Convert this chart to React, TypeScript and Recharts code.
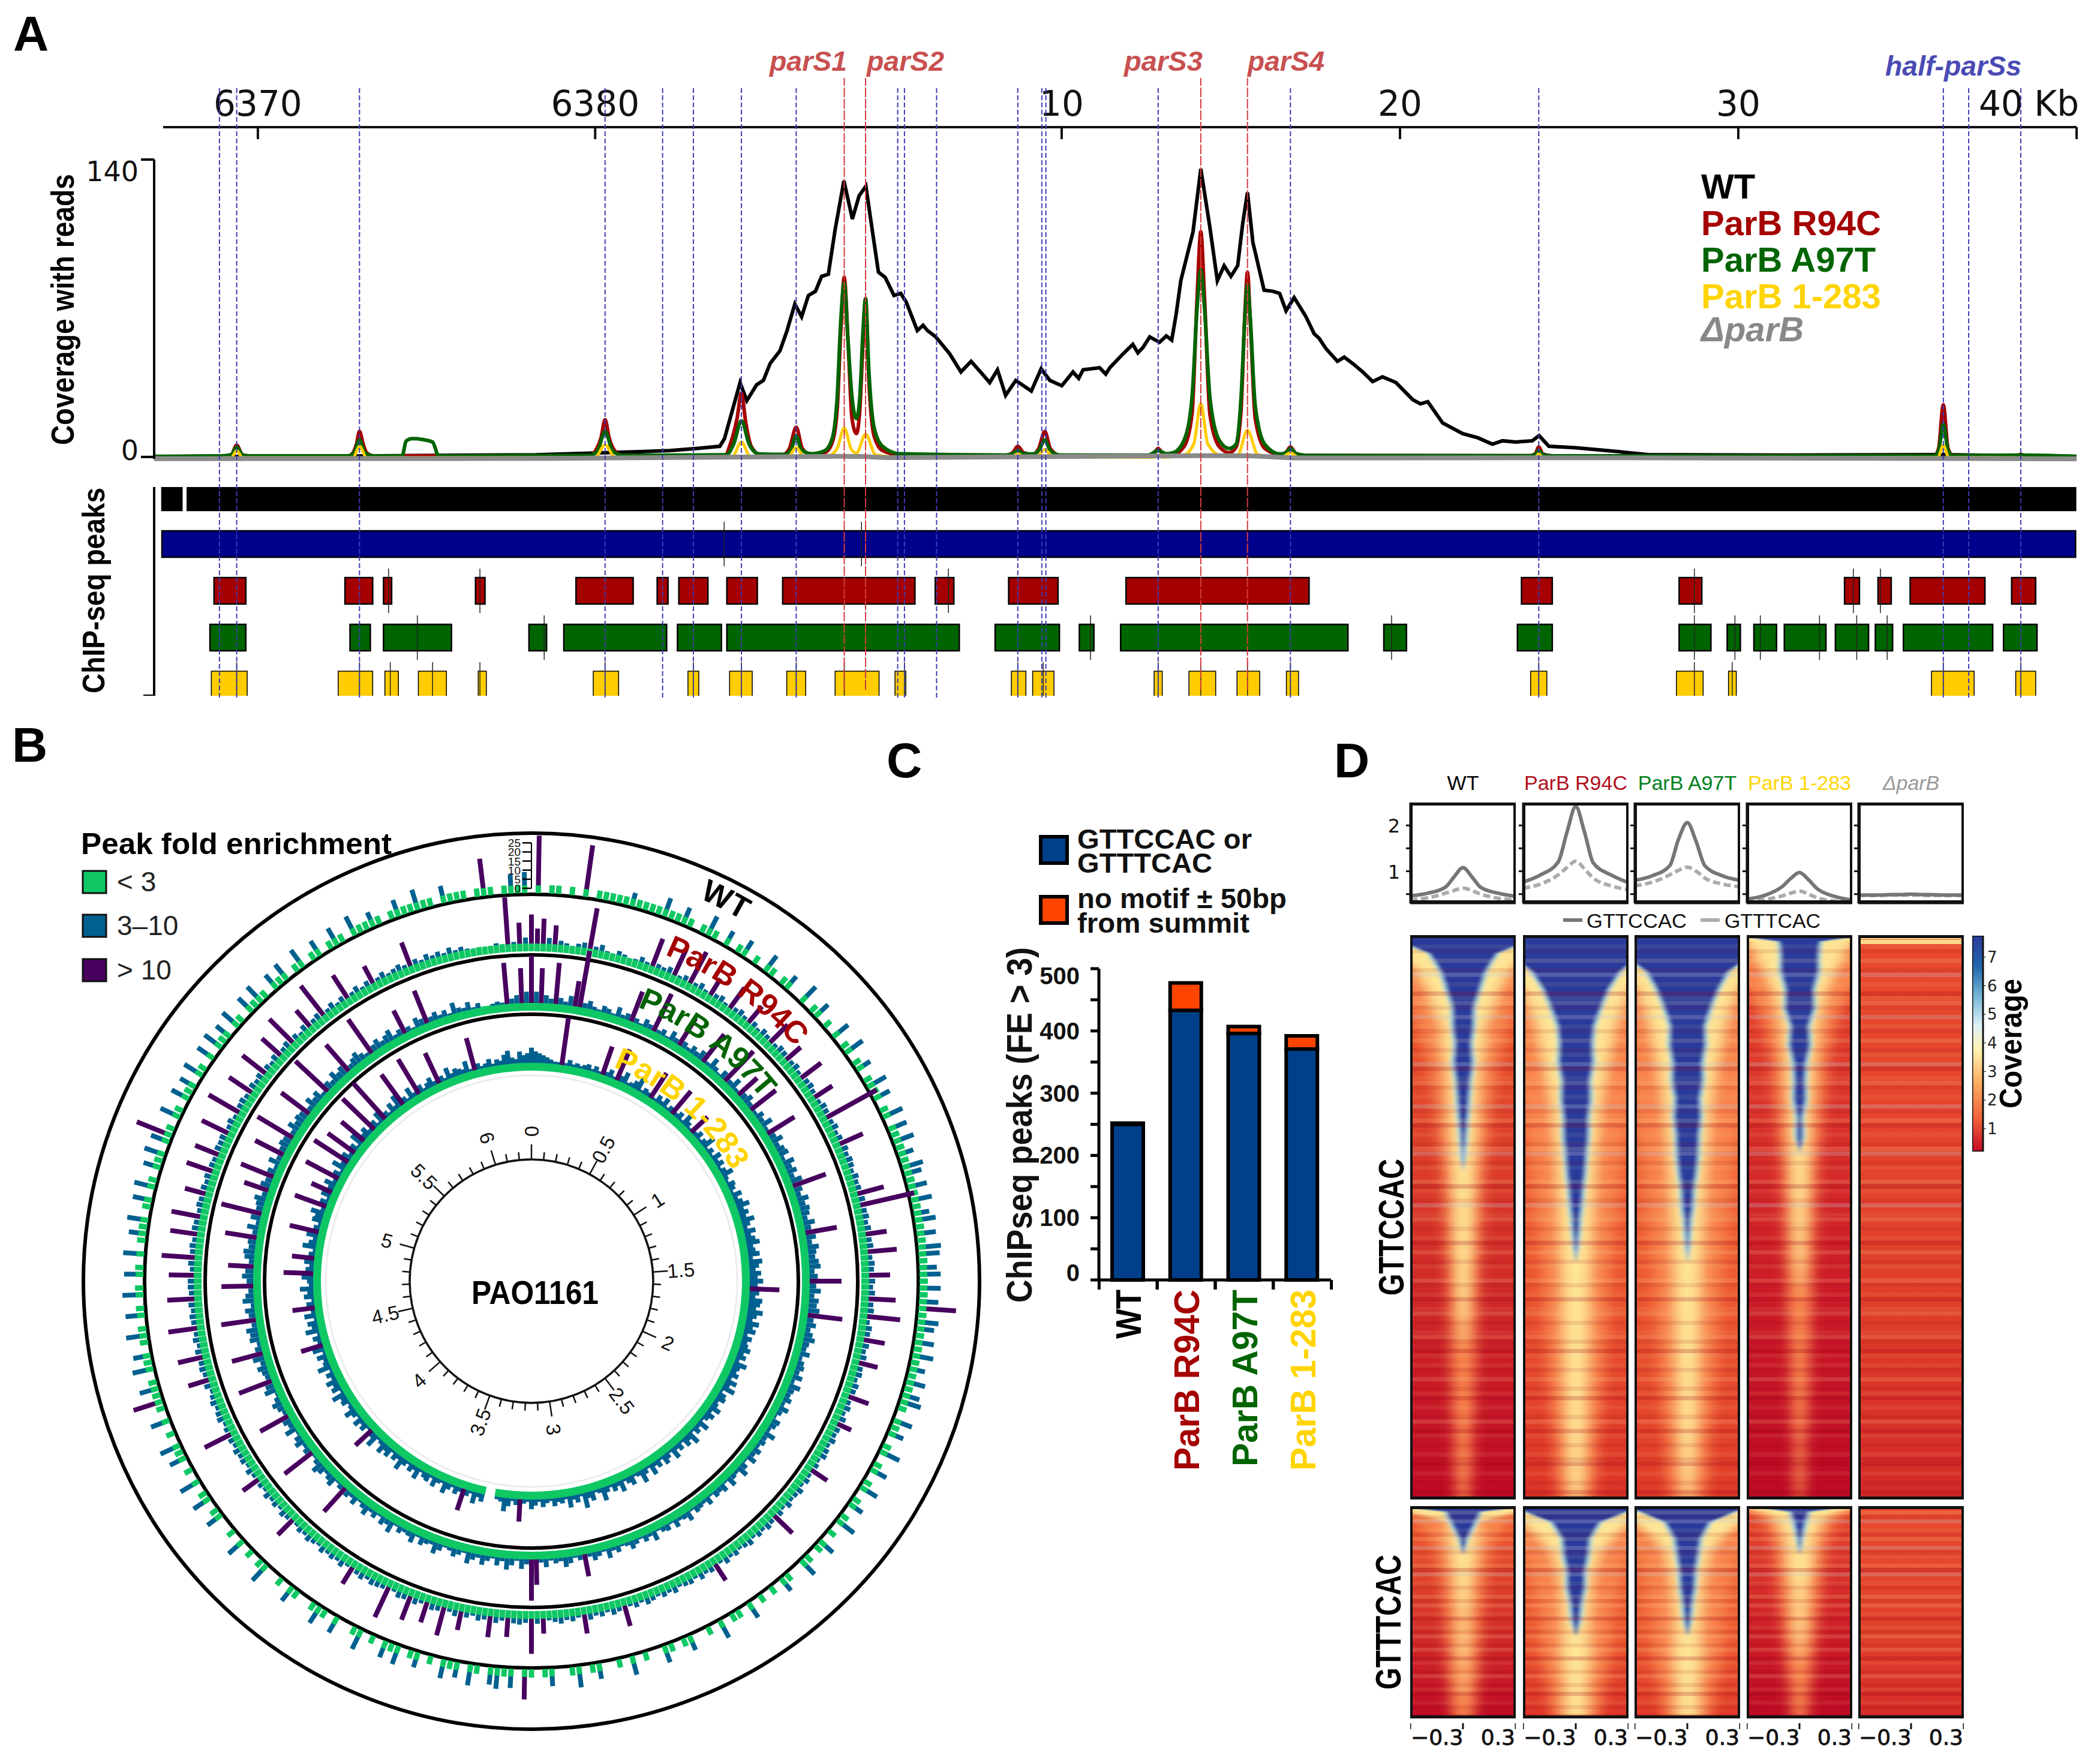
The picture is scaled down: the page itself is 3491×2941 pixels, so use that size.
import React from "react";
import {
  LineChart, Line, XAxis, YAxis, BarChart, Bar, Cell, ScatterChart, Scatter, ReferenceLine,
  RadarChart, Radar, PolarGrid, PolarAngleAxis, PolarRadiusAxis, AreaChart, Area,
} from "recharts";

const SANS = "'Liberation Sans', Arial, sans-serif";
const DEJA = "'DejaVu Sans', sans-serif";

// Panel A: coverage, [kb, reads]
const wtCoverage = [[-16.83,0],[-11.5,.4],[-5.55,1],[-3.47,2],[-2.6,2.4],[-1.59,3],[-.8,4],[-.11,5],[.03,8.6],[.49,35],[.69,26.5],[.98,34],[1.18,36],[1.38,44],[1.67,50],[1.87,59],[2.11,72],[2.31,66],[2.51,76],[2.72,78],[2.9,85],[3.1,86],[3.3,107],[3.56,130],[3.81,112],[4.01,123],[4.21,127.5],[4.35,112],[4.58,87],[4.78,84.5],[5.04,76],[5.24,77],[5.4,73],[5.73,59.5],[5.9,62],[6.03,59.5],[6.27,56.6],[6.68,48.7],[7.02,40],[7.32,45],[7.6,40],[7.87,35],[8.1,41],[8.34,29],[8.64,36],[9.1,31],[9.39,41.5],[9.65,36],[10,33.5],[10.33,40],[10.5,37],[10.63,41],[11.12,42],[11.3,39],[11.42,42],[11.81,48.5],[12.1,53],[12.25,49],[12.4,51.5],[12.6,56.5],[12.89,54],[13.09,57],[13.25,55],[13.38,67],[13.52,83],[13.88,106],[14.11,135.6],[14.37,109],[14.6,83],[14.8,90],[15,85],[15.2,90],[15.35,110],[15.49,124.5],[15.65,101],[15.98,78.5],[16.24,78],[16.44,77],[16.63,68.8],[16.87,75],[17.22,66],[17.46,58],[17.6,56],[17.81,51],[18.15,45],[18.35,47],[18.6,44],[18.9,40],[19.19,35.5],[19.48,37.7],[19.88,35],[20.37,27],[20.6,25],[20.82,26],[21.26,16],[21.85,11],[22.3,9],[22.73,6],[23.03,7.6],[23.42,7],[23.91,7.6],[24.11,10],[24.4,5],[25.19,4.3],[26.37,2.6],[27.36,1],[31.3,.9],[36,1.1],[39.46,.2]];
const r94cCoverage = [[-16.83,.2],[-14.75,.3],[-14.55,1],[-14.39,5.5],[-14.22,1],[-14,.4],[-11.1,.4],[-10.95,2],[-10.85,6],[-10.76,12],[-10.65,6],[-10.55,2],[-10.35,.5],[-3.95,.6],[-3.78,3],[-3.62,9],[-3.5,17.5],[-3.38,9],[-3.22,3],[-3,.7],[.05,.8],[.2,6],[.4,18],[.53,30],[.66,16],[.82,5],[1.1,1],[1.75,1],[1.95,4],[2.15,14],[2.33,4],[2.6,1],[3,2],[3.22,7],[3.36,22],[3.47,60],[3.57,84.5],[3.68,55],[3.8,18],[3.93,11],[4.03,22],[4.12,52],[4.2,74.5],[4.3,35],[4.45,10],[4.7,3],[5.2,1],[8.35,.8],[8.55,2],[8.7,5],[8.87,2],[9.15,1.2],[9.32,4],[9.5,12],[9.66,4],[9.95,.8],[12.55,.8],[12.72,1.6],[12.85,4],[13,1.5],[13.3,1.2],[13.62,5],[13.85,20],[14,75],[14.11,106],[14.22,75],[14.38,20],[14.65,5],[14.95,2],[15.15,4.5],[15.3,22],[15.42,70],[15.49,87],[15.57,65],[15.72,18],[16,4],[16.45,1.2],[16.62,2],[16.76,4.7],[16.92,1.6],[17.2,.7],[23.85,.6],[24,1.5],[24.1,4.7],[24.22,1.4],[24.5,.5],[35.8,.6],[35.92,4],[36.06,24.5],[36.2,4],[36.35,.6],[38.2,.4],[38.35,1.2],[38.5,.4],[40,.2]];
const a97tCoverage = [[-16.83,.3],[-15,.5],[-14.75,.6],[-14.55,1],[-14.39,4.6],[-14.22,1],[-14,.5],[-11.1,.5],[-10.92,2],[-10.76,8],[-10.6,2],[-10.35,.5],[-9.5,.5],[-9.38,7.5],[-9.2,8.6],[-8.9,8.2],[-8.6,7],[-8.42,.5],[-3.95,.7],[-3.72,3],[-3.5,12],[-3.28,3],[-3,.8],[.08,1],[.3,6],[.53,17],[.76,6],[1.05,1.4],[1.8,1.2],[2,3.5],[2.15,10],[2.3,3.5],[2.6,1.5],[3,3],[3.22,9],[3.36,28],[3.47,65],[3.57,82],[3.68,55],[3.8,28],[3.93,18],[4.03,28],[4.12,58],[4.2,74.5],[4.3,40],[4.45,14],[4.7,5],[5.2,1.5],[8.35,.9],[8.55,1.6],[8.7,3],[8.87,1.6],[9.15,1.4],[9.32,3],[9.5,8],[9.66,3],[9.95,.9],[12.55,.9],[12.85,3],[13.1,1.5],[13.3,2],[13.62,8],[13.85,28],[14,70],[14.11,88],[14.22,70],[14.38,28],[14.65,8],[14.95,4],[15.15,6],[15.3,28],[15.42,68],[15.49,81],[15.57,66],[15.72,24],[16,6],[16.45,1.4],[16.62,2],[16.76,4],[16.92,1.6],[17.2,.7],[23.85,.6],[24,1.2],[24.1,3],[24.22,1.2],[24.5,.5],[35.8,.6],[35.92,3],[36.06,15.5],[36.2,3],[36.35,.6],[38.35,.9],[40,.3]];
const truncCoverage = [[-16.83,-.6],[-14.55,-.4],[-14.39,3],[-14.22,-.3],[-10.95,-.3],[-10.76,5],[-10.55,-.3],[-3.8,-.3],[-3.5,5.7],[-3.2,-.3],[.25,-.2],[.53,7],[.8,-.1],[1.9,-.1],[2.15,4.3],[2.4,-.1],[3.1,.5],[3.36,4],[3.57,13.6],[3.78,3.5],[3.93,1.8],[4.2,10.7],[4.5,1],[5,0],[8.5,-.2],[8.7,1.5],[8.9,-.2],[9.25,0],[9.5,3.5],[9.75,-.1],[12.7,-.2],[12.85,1],[13,-.2],[13.6,.8],[13.9,6],[14.11,25],[14.32,6],[14.7,.8],[15.2,1],[15.49,12.5],[15.8,1],[16.5,-.2],[16.76,2],[17,-.3],[24,-.3],[24.1,1.5],[24.22,-.3],[35.9,-.2],[36.06,5.5],[36.22,-.2],[40,-.6]];
const deltaCoverage = [[-16.83,-.8],[-5,-.7],[3.5,.3],[4,.2],[5,-.3],[14.1,.6],[15.5,.5],[17,-.5],[24.1,-.4],[40,-.9]];

const halfParS = [-14.9,-14.39,-10.76,-3.5,-1.8,-.89,.53,2.15,5.15,5.35,6.3,8.7,9.41,9.53,12.85,16.76,24.1,36.06,36.81,38.35];
const fullParS = [3.57,4.2,14.11,15.49];
const genomeTicks = [-13.76,-3.79,10,20,30,40];
const genomeLabels = ["6370","6380","10","20","30","40 Kb"];

// ChIP-seq peak intervals, kb
const wtPeaks = [[-16.6,-16.01],[-15.85,39.97]];
const r94cMotifPeaks = [[-16.6,39.97]];
const r94cPeaks = [[-15.06,-14.12],[-11.19,-10.37],[-10.05,-9.81],[-7.33,-7.05],[-4.36,-2.67],[-1.96,-1.64],[-1.32,-.46],[.1,1],[1.75,5.66],[6.26,6.81],[8.43,9.89],[11.9,17.31],[23.59,24.5],[28.25,28.92],[33.14,33.58],[34.13,34.52],[35.08,37.29],[38.08,38.79]];
const a97tPeaks = [[-15.18,-14.12],[-11.04,-10.44],[-10.05,-8.04],[-5.75,-5.23],[-4.72,-1.68],[-1.36,-.06],[.1,6.97],[8.03,9.93],[10.52,10.95],[11.74,18.46],[19.52,20.19],[23.47,24.5],[28.25,29.19],[29.67,30.06],[30.46,31.13],[31.36,32.59],[32.87,33.85],[34.05,34.56],[34.88,37.52],[37.84,38.83]];
const truncPeaks = [[-15.14,-14.08],[-11.39,-10.37],[-10.01,-9.61],[-9.02,-8.19],[-7.25,-7.01],[-3.85,-3.1],[-1.05,-.73],[.18,.85],[1.87,2.43],[3.3,4.6],[5.07,5.39],[8.51,8.94],[9.14,9.77],[12.73,12.97],[13.76,14.55],[15.18,15.85],[16.64,17],[23.86,24.34],[28.17,28.96],[29.71,29.94],[35.71,36.97],[38.2,38.79]];
const summitsBlue = [.02,4.08];
const summitsRed = [-9.9,-7.2,6.65,28.7,33.4,34.2];
const summitsGreen = [-9.05,-5.3,10.85,19.75,28.7,29.9,30.65,32.4,33.5,34.4];
const summitsYellow = [-14.39,-10.76,-9.85,-8.6,-7.2,-3.5,-.89,.53,2.15,3.57,5.35,8.7,9.45,12.85,14.11,15.49,16.76,24.1,28.7,29.82,36.06,38.35];

// Panel B: fold enrichment per 1 degree bin, clockwise from the top
const wtFold = [
  0,29,0,2,2,0,2,0,26,0,2,2,2,2,2,5,2,2,
  2,2,8,2,2,7,2,0,2,9,2,0,6,0,2,7,0,2,
  0,8,2,0,2,6,0,0,9,0,2,7,0,2,0,8,0,2,
  9,0,2,6,0,2,9,2,7,0,2,9,0,8,2,9,2,6,
  2,9,7,2,8,2,9,2,6,9,2,8,2,10,9,2,7,9,
  2,9,2,8,18,2,9,7,2,8,2,9,2,6,2,8,2,7,
  9,2,0,8,2,6,0,2,9,0,2,7,0,2,8,0,2,6,
  0,2,9,0,2,0,7,2,0,2,8,0,0,2,6,0,2,0,
  2,0,7,0,2,2,0,8,0,2,0,0,6,2,0,2,7,0,
  0,2,0,8,0,2,0,0,6,2,0,9,2,0,0,7,2,0,
  2,14,0,8,2,9,7,0,2,9,0,6,2,8,0,2,0,6,
  2,0,8,2,7,0,2,0,9,2,0,0,7,0,2,8,2,0,
  0,2,7,0,2,0,0,9,2,0,2,0,8,0,2,0,0,7,
  2,0,8,2,0,9,0,2,0,7,2,9,0,2,0,8,0,2,
  14,2,8,2,0,9,2,7,0,2,9,2,0,8,2,0,9,2,
  0,8,2,0,9,0,2,7,2,9,0,2,8,0,9,2,0,7,
  2,9,0,8,18,2,0,9,2,0,8,2,7,0,9,2,0,8,
  0,9,2,7,0,9,2,0,8,2,9,2,0,7,2,8,0,2,
  9,0,2,7,0,2,8,2,0,9,2,2,6,2,0,2,7,2,
  2,9,2,2,0,7,2,2,2,0,2,18,2,0,2,8,2,9,
];
const r94cFold = [
  32,18,28,9,22,7,5,3,6,8,44,6,9,4,3,7,5,3,
  4,8,5,32,7,6,9,32,5,8,38,6,9,5,22,7,9,5,
  28,7,9,6,24,8,5,9,7,28,6,9,8,22,7,9,6,28,
  8,9,7,24,6,9,8,60,7,9,6,8,28,9,7,9,8,6,
  9,7,8,30,9,58,8,9,7,9,24,8,9,32,7,9,8,24,
  9,7,9,30,8,9,36,6,9,8,24,9,7,9,22,8,9,6,
  9,8,24,7,9,6,9,18,8,7,9,6,8,9,5,7,22,6,
  8,5,9,7,6,9,5,8,28,7,9,6,8,5,9,7,5,8,
  6,9,5,22,8,6,9,5,8,7,5,9,6,8,5,7,9,5,
  8,5,24,7,9,5,8,6,9,22,5,8,6,9,7,5,18,8,
  38,7,9,8,22,6,9,24,7,9,5,8,22,9,6,32,8,9,
  24,6,9,28,8,9,5,36,7,8,9,6,9,7,22,5,9,6,
  8,6,9,5,7,9,6,8,5,24,7,9,5,8,6,9,5,7,
  22,6,9,5,8,7,9,6,8,32,7,5,9,8,6,9,7,5,
  9,24,7,9,8,28,9,6,9,7,32,8,9,7,9,30,8,9,
  9,28,7,9,36,8,9,7,30,9,8,32,7,9,8,24,9,7,
  9,30,8,7,28,9,8,9,32,7,9,6,38,8,9,7,30,9,
  7,9,32,8,6,9,28,7,9,36,8,5,9,24,7,9,40,6,
  9,5,8,30,6,9,5,8,22,6,9,5,7,9,6,28,8,5,
  9,6,8,5,9,5,7,4,3,2,3,3,5,2,50,5,24,9,
];
const a97tFold = [
  32,9,24,7,5,28,6,4,8,18,38,5,7,4,3,6,5,3,
  8,4,6,22,5,3,7,5,28,4,6,3,8,5,22,6,4,7,
  5,8,24,4,9,5,3,7,28,5,9,4,18,6,8,5,22,4,
  7,5,9,4,22,6,9,5,7,8,4,9,6,8,5,9,24,7,
  5,9,6,8,7,5,9,6,22,8,5,9,7,6,8,9,5,7,
  22,6,9,5,8,7,9,24,6,8,5,7,9,6,5,8,4,6,
  7,5,8,4,9,6,5,7,4,8,5,3,7,6,4,9,5,6,
  4,7,5,8,3,6,9,4,5,8,3,7,5,6,3,7,4,5,
  6,3,8,5,4,7,3,6,5,3,8,4,6,3,5,7,4,3,
  6,4,8,3,5,7,4,16,5,3,6,8,4,5,3,7,4,18,
  28,5,8,3,6,9,4,7,3,5,8,4,6,9,3,5,7,4,
  3,6,9,4,5,7,3,8,5,4,6,3,9,5,7,3,6,4,
  8,5,3,7,4,6,22,5,3,8,6,4,7,9,5,3,24,6,
  4,8,6,3,9,5,7,22,4,6,8,5,3,9,7,24,5,6,
  8,5,9,22,6,4,8,7,9,5,24,6,8,4,9,7,5,22,
  6,9,7,18,5,8,9,6,7,22,5,9,4,8,28,6,7,9,
  5,18,8,6,24,7,4,9,5,22,6,8,7,28,5,9,6,8,
  7,24,5,9,6,8,4,30,7,5,9,6,8,24,5,7,9,6,
  4,28,6,8,5,7,9,4,6,18,5,3,8,6,24,5,7,4,
  6,3,9,5,4,7,3,5,2,2,3,4,3,28,5,7,24,9,
];
const truncFold = [
  10,8,7,6,5,4,3,3,28,3,5,3,4,3,4,5,3,5,
  3,18,4,6,3,20,5,8,3,4,6,9,3,5,4,18,3,6,
  4,7,3,5,18,4,6,3,8,5,3,14,4,6,3,5,9,3,
  5,3,7,4,6,3,5,8,4,3,6,5,3,7,4,6,9,5,
  7,5,9,6,4,8,5,7,9,5,6,8,4,9,7,5,8,6,
  9,6,18,7,5,9,8,6,10,7,5,9,6,8,4,7,5,6,
  8,5,7,4,9,6,5,7,4,8,5,9,3,6,7,4,5,8,
  4,7,5,3,8,4,6,3,9,5,7,3,6,4,8,3,5,7,
  3,6,4,8,3,5,9,4,3,7,5,3,8,4,6,3,5,9,
  4,3,7,5,10,3,6,4,8,3,5,4,6,3,4,6,3,5,
  7,3,4,14,5,3,6,9,4,3,0,0,0,6,4,8,3,5,
  14,4,6,3,5,8,3,4,7,3,6,5,3,8,4,6,3,5,
  9,4,6,3,7,5,8,4,3,9,5,14,3,6,4,7,3,5,
  8,4,3,6,5,9,3,7,5,8,4,6,3,9,5,4,7,3,
  8,14,4,6,3,9,5,7,3,8,4,14,6,3,7,5,9,4,
  5,8,18,6,4,7,14,5,3,9,6,4,8,18,5,3,7,6,
  9,4,20,6,3,7,14,5,8,4,22,6,3,9,5,24,7,4,
  20,6,3,9,18,5,7,4,26,6,3,8,28,5,3,7,4,9,
  22,5,3,8,4,24,6,3,5,7,4,20,5,3,8,4,6,5,
  4,8,3,20,5,3,4,6,3,5,4,7,9,5,4,8,6,7,
];
const genomeMb = [0,.1,.2,.3,.4,.5,.6,.7,.8,.9,1,1.1,1.2,1.3,1.4,1.5,1.6,1.7,1.8,1.9,2,2.1,2.2,2.3,2.4,2.5,2.6,2.7,2.8,2.9,3,3.1,3.2,3.3,3.4,3.5,3.6,3.7,3.8,3.9,4,4.1,4.2,4.3,4.4,4.5,4.6,4.7,4.8,4.9,5,5.1,5.2,5.3,5.4,5.5,5.6,5.7,5.8,5.9,6,6.1,6.2];
const foldTicks = [0,5,10,15,20,25];

// Panel C
const strains = ["WT","ParB R94C","ParB A97T","ParB 1-283"];
const strainColors = ["#000000","#a50000","#006400","#ffd400"];
const motifPeaks = [250,433,396,371];
const noMotifPeaks = [2,44,11,21];
const peakAxisTicks = [0,50,100,150,200,250,300,350,400,450,500];

// Panel D profiles
const profileX = [-.3,-.2,-.1,-.05,0,.05,.1,.2,.3];
const profileSolid = [
  [.46,.52,.65,.88,1.08,.88,.65,.52,.45],
  [.76,.92,1.2,1.85,2.41,1.85,1.18,.92,.75],
  [.8,.9,1.12,1.7,2.06,1.65,1.12,.9,.8],
  [.39,.47,.66,.84,.97,.82,.62,.45,.37],
  [.48,.48,.49,.49,.5,.49,.49,.48,.48],
];
const profileDashed = [
  [.38,.42,.52,.58,.63,.58,.5,.41,.37],
  [.63,.72,.92,1.08,1.22,1.05,.85,.68,.6],
  [.68,.76,.92,1.02,1.09,1,.85,.72,.66],
  [.34,.38,.46,.52,.57,.5,.42,.35,.32],
  [.47,.47,.48,.48,.48,.48,.47,.47,.47],
];
const columnTitles = ["WT","ParB R94C","ParB A97T","ParB 1-283","ΔparB"];
const columnColors = ["#000","#b01020","#008020","#ffd400","#9a9a9a"];
const columnLeft = [2351,2539,2725,2912,3098];
const coverageTicks = [1,2,3,4,5,6,7];

// Panel D heatmaps, half widths of the colour bands per row (0.4 = past the panel edge)
const topRows = [0,.35,1,2,3,4,5,6,7,8,9,10,11,12,13,14,15,16,17,18,19,20,21,22,23,24,25,26,27,28,29,30,31];
const bottomRows = [0,.35,1,2,3,4,5,6,7,8,9,10,11,12,13];
const none33 = [0,0,0,0,0,0,0,0,0,0,0,0,0,0,0,0,0,0,0,0,0,0,0,0,0,0,0,0,0,0,0,0,0];
const none15 = [0,0,0,0,0,0,0,0,0,0,0,0,0,0,0];
const topCore = [
  [.4,.38,.2,.13,.095,.06,.06,.045,.055,.04,.032,.024,.014,.005,0,0,0,0,0,0,0,0,0,0,0,0,0,0,0,0,0,0,0],
  [.4,.4,.4,.26,.19,.145,.105,.095,.1,.08,.085,.07,.072,.06,.052,.04,.03,.018,.008,0,0,0,0,0,0,0,0,0,0,0,0,0,0],
  [.4,.4,.4,.24,.18,.135,.1,.105,.085,.09,.07,.078,.065,.062,.05,.035,.028,.012,.005,0,0,0,0,0,0,0,0,0,0,0,0,0,0],
  [.4,.12,.11,.11,.08,.085,.05,.06,.035,.03,.035,.012,.018,0,0,0,0,0,0,0,0,0,0,0,0,0,0,0,0,0,0,0,0],
  none33,
];
const topPale = [
  [.4,.4,.35,.26,.2,.17,.12,.12,.1,.085,.08,.075,.07,.065,.06,.055,.05,.05,.045,.04,.035,.03,.02,.01,0,0,0,0,0,0,0,0,0],
  [.4,.4,.4,.4,.3,.26,.22,.2,.18,.16,.14,.13,.12,.11,.105,.1,.095,.09,.085,.08,.075,.07,.07,.065,.06,.06,.055,.05,.05,.045,.04,.035,.02],
  [.4,.4,.4,.35,.28,.24,.21,.19,.17,.15,.135,.125,.115,.11,.1,.095,.09,.085,.08,.075,.07,.07,.065,.06,.06,.055,.05,.05,.045,.04,.035,.025,.015],
  [.4,.3,.25,.2,.15,.125,.1,.09,.08,.07,.06,.055,.05,.05,.045,.04,.035,.03,.025,.02,.01,0,0,0,0,0,0,0,0,0,0,0,0],
  none33,
];
const topWarm = [
  [.4,.4,.4,.4,.38,.3,.26,.23,.2,.18,.16,.15,.14,.13,.12,.11,.11,.1,.1,.09,.09,.08,.08,.07,.07,.065,.06,.06,.05,.05,.05,.04,.04],
  [.4,.4,.4,.4,.4,.4,.4,.38,.36,.34,.32,.3,.28,.26,.25,.24,.23,.22,.21,.2,.19,.18,.18,.17,.16,.16,.15,.14,.13,.12,.12,.11,.1],
  [.4,.4,.4,.4,.4,.4,.4,.38,.36,.34,.32,.3,.28,.26,.25,.24,.23,.22,.21,.2,.19,.18,.18,.17,.16,.16,.15,.14,.13,.12,.12,.11,.1],
  [.4,.4,.4,.4,.3,.24,.2,.18,.16,.15,.14,.13,.12,.11,.1,.1,.09,.09,.08,.08,.07,.07,.06,.06,.05,.05,.05,.04,.04,.03,.03,.03,.02],
  none33,
];
const bottomCore = [
  [.4,.1,.07,.02,0,0,0,0,0,0,0,0,0,0,0],
  [.4,.3,.14,.08,.07,.05,.05,.03,.02,0,0,0,0,0,0],
  [.4,.28,.13,.075,.06,.045,.04,.025,.015,0,0,0,0,0,0],
  [.3,.05,.03,.01,0,0,0,0,0,0,0,0,0,0,0],
  none15,
];
const bottomPale = [
  [.4,.3,.08,.08,.07,.05,.04,.03,.02,.02,.02,.01,.01,0,0],
  [.4,.4,.3,.2,.13,.1,.08,.08,.07,.07,.08,.07,.06,.06,.05],
  [.4,.4,.3,.18,.12,.1,.08,.08,.07,.07,.08,.07,.06,.06,.05],
  [.4,.2,.12,.08,.07,.06,.04,.03,.03,.02,.01,0,0,0,0],
  none15,
];
const bottomWarm = [
  [.4,.4,.25,.18,.15,.13,.12,.11,.1,.1,.09,.09,.08,.07,.06],
  [.4,.4,.4,.4,.28,.26,.24,.22,.2,.2,.2,.18,.16,.15,.13],
  [.4,.4,.4,.4,.27,.25,.23,.22,.2,.2,.2,.18,.16,.15,.13],
  [.4,.3,.2,.16,.14,.13,.12,.11,.1,.09,.08,.07,.06,.05,.04],
  none15,
];
const heatTop = ["#f2622f","#f4733a","#f4733a","#e84b2e","#e94a2e"];
const heatBottom = ["#bf0a26","#dc3327","#e03a28","#be0a26","#d42a28"];
const heatMidBottom = ["#d02a28","#ea5530","#ec5a32","#cc1c28","#e0402a"];
// row tint: positive = paler line, negative = darker line
const streakTop = [0,0,1,-1,0,2,0,-1,3,0,1,0,-2,1,2,-1,0,3,0,1,-1,0,2,0,-1,1,0,3,-2,0,1,2,-1,0,1,0,3,-1,0,2,-2,0,1,0,-1,2,3,0,-1,1,0,0,2,-2,1,0,-1,3,0,1,2,0,-1,0,1,-2,0,2,0,-1,1,0,0,2,-1,0,1,-2,0,1,2,0,-1,0,1,2,-1,0,-2,1,0,1,-1,0,2,0,-1,1,-2,0,1,0,-1,2,0,-2,1,0,-1,0,1,-1,-2,0,1,0,-1,0,-2,-1];
const streakBottom = [0,2,-1,3,0,1,-1,2,0,3,-1,1,0,2,-2,3,0,1,-1,0,2,-1,2,0,1,-2,0,1,-1,2,0,-1,2,0,-2,1,0,-1,2,0,-1,1,-2,0,1,-1,0,-2];

const pts = (a: number[][]) => a.map(([x, y]) => ({ x, y }));
const spans = (a: number[][], row: number, fill: string) => a.map((s) => ({ span: s, row, fill }));

const trackBars = [
  ...spans(wtPeaks, 0, "#000000"),
  ...spans(r94cMotifPeaks, 1, "#00008b"),
  ...spans(r94cPeaks, 2, "#a50000"),
  ...spans(a97tPeaks, 3, "#006400"),
  ...spans(truncPeaks, 4, "#ffcc00"),
];
const summitMarks = [
  ...summitsBlue.map((x) => ({ x, row: 1 })),
  ...summitsRed.map((x) => ({ x, row: 2 })),
  ...summitsGreen.map((x) => ({ x, row: 3 })),
  ...summitsYellow.map((x) => ({ x, row: 4 })),
];
const hiddenLine = pts(wtCoverage);

function T({ x, y, s, size, fill = "#000", bold, italic, len, rot, anchor, family = SANS }: any) {
  return (
    <text
      x={x}
      y={y}
      fontSize={size}
      fill={fill}
      fontFamily={family}
      fontWeight={bold ? 700 : 400}
      fontStyle={italic ? "italic" : "normal"}
      textAnchor={anchor || "start"}
      textLength={len}
      lengthAdjust={len ? "spacingAndGlyphs" : undefined}
      transform={rot ? `rotate(${rot} ${x} ${y})` : undefined}
    >
      {s}
    </text>
  );
}

function Box({ l, t, children, style }: any) {
  return <div style={{ position: "absolute", left: l, top: t, ...style }}>{children}</div>;
}

function GenomeTick({ x, y, index }: any) {
  const label = genomeLabels[index];
  const last = index === genomeLabels.length - 1;
  return (
    <text x={last ? x + 4 : x} y={y - 41} textAnchor={last ? "end" : "middle"} fontSize={58} fontFamily={DEJA} fill="#111">
      {label}
    </text>
  );
}

function CoverageTick({ x, y, payload }: any) {
  const top = payload.value === 140;
  return (
    <text x={x - 2} y={top ? y + 36 : y + 5} textAnchor="end" fontSize={46} fontFamily={DEJA} fill="#111">
      {payload.value}
    </text>
  );
}

function VLines({ top, height, values, color, dash }: any) {
  return (
    <Box l={257} t={top}>
      <LineChart width={3205} height={height} margin={{ top: 0, right: 0, bottom: 0, left: 0 }}>
        <XAxis type="number" dataKey="x" domain={[-16.83, 40]} hide />
        <YAxis hide domain={[0, 1]} />
        <Line data={hiddenLine} dataKey="y" stroke="none" dot={false} isAnimationActive={false} />
        {values.map((v: number) => (
          <ReferenceLine key={v} x={v} stroke={color} strokeWidth={2} strokeDasharray={dash} />
        ))}
      </LineChart>
    </Box>
  );
}

function PanelA() {
  const series: [number[][], string, number][] = [
    [wtCoverage, "#000000", 6],
    [r94cCoverage, "#a50000", 6],
    [a97tCoverage, "#006400", 6],
    [truncCoverage, "#ffcc00", 5],
    [deltaCoverage, "#8a8a8a", 8],
  ];
  return (
    <>
      <Box l={272} t={130}>
        <LineChart width={3200} height={120} margin={{ top: 0, right: 10, bottom: 0, left: 0 }}>
          <XAxis
            type="number"
            dataKey="x"
            domain={[-16.56, 40]}
            ticks={genomeTicks}
            interval={0}
            height={38}
            tick={<GenomeTick />}
            tickSize={20}
            stroke="#111"
            strokeWidth={4}
            allowDataOverflow
          />
          <YAxis hide />
          <Line data={hiddenLine} dataKey="y" stroke="none" dot={false} isAnimationActive={false} />
        </LineChart>
      </Box>
      <Box l={130} t={236}>
        <LineChart width={3332} height={559} margin={{ top: 30, right: 0, bottom: 30, left: 0 }}>
          <XAxis type="number" dataKey="x" domain={[-16.83, 40]} hide />
          <YAxis
            width={127}
            domain={[0, 140]}
            ticks={[0, 140]}
            tick={<CoverageTick />}
            tickSize={22}
            stroke="#000"
            strokeWidth={4}
          />
          {series.map(([d, c, w], i) => (
            <Line key={i} data={pts(d)} dataKey="y" type={i === 0 ? "linear" : "monotone"} stroke={c} strokeWidth={w} dot={false} isAnimationActive={false} />
          ))}
        </LineChart>
      </Box>
      <Box l={200} t={812}>
        <BarChart width={3262} height={348} layout="vertical" data={trackBars} margin={{ top: 0, right: 0, bottom: 0, left: 0 }}>
          <XAxis type="number" domain={[-16.83, 40]} hide />
          <YAxis type="number" dataKey="row" width={57} domain={[-0.218, 4.244]} ticks={[-0.218, 4.244]} tick={<g />} tickSize={18} stroke="#000" strokeWidth={4} allowDataOverflow />
          <Bar dataKey="span" barSize={44} isAnimationActive={false}>
            {trackBars.map((b, i) => (
              <Cell key={i} fill={b.fill} stroke="#000" strokeWidth={b.fill === "#ffcc00" ? 1.5 : 2.5} />
            ))}
          </Bar>
        </BarChart>
      </Box>
      <Box l={257} t={812}>
        <ScatterChart width={3205} height={348} margin={{ top: 0, right: 0, bottom: 0, left: 0 }}>
          <XAxis type="number" dataKey="x" domain={[-16.83, 40]} hide />
          <YAxis type="number" dataKey="row" reversed domain={[-0.218, 4.244]} hide />
          <Scatter
            data={summitMarks}
            isAnimationActive={false}
            shape={(p: any) => <line x1={p.cx} x2={p.cx} y1={p.cy - 37} y2={p.cy + 37} stroke="#222" strokeWidth={1.5} />}
          />
        </ScatterChart>
      </Box>
      <VLines top={147} height={1016} values={halfParS} color="#3c3cb4" dash="8 4" />
      <VLines top={130} height={1020} values={fullParS} color="#d23c3c" dash="16 3" />
    </>
  );
}

const C = 760;
const blue = "#00608f";
const purple = "#48005f";
const green = "#0fc864";

function spikes(inner: number) {
  return (props: any) => {
    const list = (props.points || []).filter((p: any) => p.value > 0 && p.radius > 0);
    const seg = (p: any, a: number, b: number, color: string, w: number, k: string) => {
      const ux = (p.x - C) / p.radius;
      const uy = (p.y - C) / p.radius;
      return <line key={k} x1={C + ux * a} y1={C + uy * a} x2={C + ux * b} y2={C + uy * b} stroke={color} strokeWidth={w} />;
    };
    return (
      <g>
        {list.filter((p: any) => p.value >= 3 && p.value <= 10).map((p: any, i: number) => seg(p, inner, p.radius, blue, 8, "b" + i))}
        {list.filter((p: any) => p.value > 10).map((p: any, i: number) => seg(p, inner, p.radius, purple, 8, "p" + i))}
        {list.map((p: any, i: number) => seg(p, inner - 8, inner + (p.value < 3 ? p.value * 3 : 5), green, 9, "g" + i))}
      </g>
    );
  };
}

function FoldTick({ x, y, payload }: any) {
  return (
    <g>
      <line x1={x - 15} x2={x} y1={y} y2={y} stroke="#000" strokeWidth={2.5} />
      <text x={x - 18} y={y + 7} textAnchor="end" fontSize={19} fontFamily={SANS} fill="#111">
        {payload.value}
      </text>
    </g>
  );
}

function RingChart({ values, inner, grid, axis }: any) {
  const data = values.map((fe: number, i: number) => ({ bin: i, fe }));
  return (
    <Box l={126} t={1376}>
      <RadarChart width={1520} height={1520} cx={C} cy={C} innerRadius={inner} outerRadius={inner + 100} data={data} margin={{ top: 0, right: 0, bottom: 0, left: 0 }}>
        <PolarGrid gridType="circle" radialLines={false} polarRadius={grid} stroke="#000" strokeWidth={6} />
        <PolarAngleAxis dataKey="bin" tick={false} axisLine={false} tickLine={false} />
        <PolarRadiusAxis
          angle={90}
          domain={[0, 33]}
          ticks={axis ? foldTicks : undefined}
          tick={axis ? <FoldTick /> : false}
          axisLine={axis ? { stroke: "#000", strokeWidth: 2 } : false}
          tickLine={false}
        />
        <Radar dataKey="fe" stroke="none" fill="none" dot={false} isAnimationActive={false} shape={spikes(inner)} />
      </RadarChart>
    </Box>
  );
}

function MbTick({ x, y, payload }: any) {
  const v = Number(payload.value);
  const dx = x - C;
  const dy = y - C;
  const r = Math.hypot(dx, dy);
  const ux = dx / r;
  const uy = dy / r;
  const major = Math.abs(v * 2 - Math.round(v * 2)) < 1e-6;
  const len = major ? 25 : 13;
  const deg = (Math.atan2(ux, -uy) * 180) / Math.PI;
  const a = deg < 0 ? deg + 360 : deg;
  const rot = a <= 180 ? a - 90 : a + 90;
  const lx = C + ux * 250;
  const ly = C + uy * 250;
  return (
    <g>
      <line x1={C + ux * 203} y1={C + uy * 203} x2={C + ux * (203 + len)} y2={C + uy * (203 + len)} stroke="#111" strokeWidth={2.5} />
      {major && (
        <text x={lx} y={ly + 12} textAnchor="middle" fontSize={33} fontFamily={SANS} fill="#111" transform={`rotate(${rot} ${lx} ${ly})`}>
          {v}
        </text>
      )}
    </g>
  );
}

function PanelB() {
  const axisData = genomeMb.map((mb) => ({ mb, v: 1 }));
  return (
    <>
      <RingChart values={wtFold} inner={655} grid={[747, 645]} axis />
      <RingChart values={r94cFold} inner={558} grid={[544]} />
      <RingChart values={a97tFold} inner={459} grid={[445]} />
      <RingChart values={truncFold} inner={359} grid={[]} />
      <Box l={126} t={1376}>
        <RadarChart width={1520} height={1520} cx={C} cy={C} outerRadius={203} data={axisData} margin={{ top: 0, right: 0, bottom: 0, left: 0 }}>
          <PolarGrid gridType="circle" radialLines={false} polarRadius={[343]} stroke="#ececec" strokeWidth={3} />
          <PolarAngleAxis dataKey="mb" axisLineType="circle" axisLine={{ stroke: "#111", strokeWidth: 3.5 }} tickLine={false} tick={<MbTick />} />
          <Radar dataKey="v" stroke="none" fill="none" dot={false} isAnimationActive={false} />
        </RadarChart>
      </Box>
    </>
  );
}

function PeakYTick({ x, y, payload }: any) {
  const v = payload.value;
  const dy = v === 500 ? 12 : v === 0 ? -12 : 0;
  return v % 100 === 0 ? (
    <text x={x - 16} y={y + dy + 14} textAnchor="end" fontSize={40} fontWeight={700} fontFamily={SANS} fill="#111">
      {v}
    </text>
  ) : (
    <g />
  );
}

function StrainTick({ x, y, index }: any) {
  const lens = [82, 302, 295, 302];
  const bx = x + 22;
  const by = y + 8;
  return (
    <g>
      <line x1={x - 48} x2={x - 48} y1={y - 8} y2={y + 8} stroke="#000" strokeWidth={5} />
      <line x1={x + 49} x2={x + 49} y1={y - 8} y2={y + 8} stroke="#000" strokeWidth={5} />
      <text
        x={bx}
        y={by}
        transform={`rotate(-90 ${bx} ${by})`}
        textAnchor="end"
        fontSize={60}
        fontFamily={SANS}
        fontWeight={700}
        fill={strainColors[index]}
        textLength={lens[index]}
        lengthAdjust="spacingAndGlyphs"
      >
        {strains[index]}
      </text>
    </g>
  );
}

function PanelC() {
  const data = strains.map((name, i) => ({ name, motif: motifPeaks[i], noMotif: noMotifPeaks[i] }));
  return (
    <Box l={1650} t={1590}>
      <BarChart width={579} height={884} data={data} barCategoryGap={0} margin={{ top: 25, right: 10, bottom: 0, left: 0 }}>
        <XAxis dataKey="name" height={340} interval={0} tickLine={false} stroke="#000" strokeWidth={5} tick={<StrainTick />} />
        <YAxis width={182} domain={[0, 500]} ticks={peakAxisTicks} interval={0} tick={<PeakYTick />} tickSize={14} stroke="#000" strokeWidth={5} />
        <Bar dataKey="motif" stackId="a" fill="#00408a" stroke="#000" strokeWidth={6} barSize={52} isAnimationActive={false} />
        <Bar dataKey="noMotif" stackId="a" fill="#ff4500" stroke="#000" strokeWidth={6} barSize={52} isAnimationActive={false} />
      </BarChart>
    </Box>
  );
}

function ProfileYTick({ x, y, payload, show }: any) {
  return show && (payload.value === 1 || payload.value === 2) ? (
    <text x={x - 8} y={y + 12} textAnchor="end" fontSize={32} fontFamily={DEJA} fill="#111">
      {payload.value}
    </text>
  ) : (
    <g />
  );
}

function ProfilePanel({ i }: any) {
  const data = profileX.map((x, k) => ({ x, solid: profileSolid[i][k], dashed: profileDashed[i][k] }));
  return (
    <Box l={columnLeft[i] - 50} t={1338}>
      <LineChart width={226} height={182} data={data} margin={{ top: 0, right: 0, bottom: 0, left: 0 }}>
        <XAxis type="number" dataKey="x" domain={[-0.3, 0.3]} ticks={[-0.3, 0, 0.3]} tick={false} height={14} tickSize={9} stroke="#111" strokeWidth={3} />
        <YAxis width={50} domain={[0.3, 2.5]} ticks={[0.5, 1, 1.5, 2]} interval={0} tick={<ProfileYTick show={i === 0} />} tickSize={7} stroke="#111" strokeWidth={3} allowDataOverflow />
        <Line dataKey="dashed" type="monotone" stroke="#ababab" strokeWidth={6} strokeDasharray="12 6" dot={false} isAnimationActive={false} />
        <Line dataKey="solid" type="monotone" stroke="#767676" strokeWidth={6} dot={false} isAnimationActive={false} />
      </LineChart>
      <div style={{ position: "absolute", left: 50, top: 0, width: 176, height: 168, boxSizing: "border-box", border: "4px solid #111", borderTopWidth: 5, borderBottomWidth: 5 }} />
    </Box>
  );
}

function HeatXTick({ x, y, payload }: any) {
  const v = payload.value;
  return (
    <g>
      <line x1={x} x2={x} y1={y} y2={y + 10} stroke="#111" strokeWidth={3} />
      {v !== 0 && (
        <text x={v < 0 ? x + 1 : x - 1} y={y + 36} textAnchor={v < 0 ? "start" : "end"} fontSize={36} fontFamily={DEJA} fill="#111" stroke="#111" strokeWidth={0.8}>
          {v < 0 ? "−0.3" : "0.3"}
        </text>
      )}
    </g>
  );
}

function streakFill(v: number) {
  if (v >= 3) return "rgba(196,196,214,0.26)";
  if (v > 0) return `rgba(255,226,160,${0.08 * v})`;
  if (v < 0) return `rgba(150,0,25,${0.11 * -v})`;
  return "rgba(0,0,0,0)";
}

function HeatBand({ rows, w, height, rowAt, filter, keys }: any) {
  return (
    <div style={{ position: "absolute", left: -w / 6, top: 0, filter: `url(#${filter})` }}>
      <AreaChart width={(w * 4) / 3} height={height} layout="vertical" data={rows} margin={{ top: 0, right: 0, bottom: 0, left: 0 }}>
        <XAxis type="number" domain={[-0.4, 0.4]} hide />
        <YAxis type="number" dataKey="row" domain={[0, rowAt[rowAt.length - 1]]} hide />
        {keys.map(([k, c]: string[]) => (
          <Area key={k} dataKey={k} stroke="none" fill={c} fillOpacity={1} isAnimationActive={false} />
        ))}
      </AreaChart>
    </div>
  );
}

function HeatPanel({ left, top, height, rowAt, core, pale, warm, bg, streak, axis, firstRow }: any) {
  const w = 176;
  const rows = core.map((c: number, i: number) => ({
    row: rowAt[i],
    warm: [-warm[i], warm[i]],
    pale: [-pale[i], pale[i]],
    sky: c > 0 ? [-(c + 0.018), c + 0.018] : [0, 0],
    core: [-c, c],
  }));
  const lines = streak.map((v: number, i: number) => ({ row: i, span: [-0.3, 0.3], v }));
  const barH = Math.ceil(height / streak.length) + 1;
  return (
    <Box l={left} t={top}>
      <div style={{ position: "relative", width: w, height, overflow: "hidden", background: `linear-gradient(${bg[0]}, ${bg[1]} 62%, ${bg[2]})` }}>
        <HeatBand rows={rows} w={w} height={height} rowAt={rowAt} filter="heatBlurWide" keys={[["warm", "#f8834c"], ["pale", "#fee594"]]} />
        <HeatBand rows={rows} w={w} height={height} rowAt={rowAt} filter="heatBlur" keys={[["sky", "#a9d8e8"], ["core", "#2a3a9c"]]} />
      </div>
      <div style={{ position: "absolute", left: 0, top: 0 }}>
        <BarChart width={w} height={height + (axis ? 60 : 0)} layout="vertical" data={lines} margin={{ top: 0, right: 0, bottom: 0, left: 0 }}>
          <XAxis type="number" domain={[-0.3, 0.3]} ticks={[-0.3, 0, 0.3]} hide={!axis} height={60} tick={<HeatXTick />} tickLine={false} axisLine={false} interval={0} />
          <YAxis type="number" dataKey="row" domain={[-0.5, streak.length - 0.5]} hide />
          <Bar dataKey="span" barSize={barH} isAnimationActive={false}>
            {lines.map((d: any, i: number) => (
              <Cell key={i} fill={i < 2 && firstRow ? firstRow : streakFill(d.v)} />
            ))}
          </Bar>
        </BarChart>
      </div>
      <div style={{ position: "absolute", left: 0, top: 0, width: w, height, boxSizing: "border-box", border: "4px solid #111", borderTopWidth: 5, borderBottomWidth: 5 }} />
    </Box>
  );
}

function ColorBar() {
  return (
    <Box l={3288} t={1560}>
      <BarChart width={60} height={360} data={[{ name: "c", range: [0.2, 7.75] }]} barCategoryGap={0} margin={{ top: 0, right: 0, bottom: 0, left: 0 }}>
        <defs>
          <linearGradient id="coverageBar" x1="0" y1="1" x2="0" y2="0">
            <stop offset="0%" stopColor="#c40a26" />
            <stop offset="14%" stopColor="#ee5a38" />
            <stop offset="32%" stopColor="#fdae61" />
            <stop offset="47%" stopColor="#fff2b0" />
            <stop offset="58%" stopColor="#e0f3f8" />
            <stop offset="72%" stopColor="#74b6d6" />
            <stop offset="86%" stopColor="#2166ac" />
            <stop offset="100%" stopColor="#2a3a9c" />
          </linearGradient>
        </defs>
        <XAxis dataKey="name" hide />
        <YAxis orientation="right" width={42} domain={[0.2, 7.75]} ticks={coverageTicks} interval={0} tick={{ fontSize: 26, fontFamily: DEJA, fill: "#222" }} tickSize={5} stroke="#111" axisLine={false} />
        <Bar dataKey="range" fill="url(#coverageBar)" stroke="#111" strokeWidth={3} isAnimationActive={false} />
      </BarChart>
    </Box>
  );
}

function arcPath(r: number, mid: number, spread: number) {
  const a0 = ((mid - spread - 90) * Math.PI) / 180;
  const a1 = ((mid + spread - 90) * Math.PI) / 180;
  const cx = 886;
  const cy = 2136;
  return `M ${cx + r * Math.cos(a0)} ${cy + r * Math.sin(a0)} A ${r} ${r} 0 0 1 ${cx + r * Math.cos(a1)} ${cy + r * Math.sin(a1)}`;
}

const ringLabels = [
  { s: "WT", r: 697, mid: 27, fill: "#000" },
  { s: "ParB R94C", r: 588, mid: 35.3, fill: "#a50000" },
  { s: "ParB A97T", r: 490, mid: 36.4, fill: "#006400" },
  { s: "ParB 1-283", r: 382, mid: 41, fill: "#ffd400" },
];

function Overlay() {
  return (
    <svg width={3491} height={2941} style={{ position: "absolute", left: 0, top: 0, pointerEvents: "none" }}>
      <defs>
        <filter id="heatBlur" x="-10%" y="-2%" width="120%" height="104%">
          <feGaussianBlur stdDeviation="3.5 1" />
        </filter>
        <filter id="heatBlurWide" x="-20%" y="-2%" width="140%" height="104%">
          <feGaussianBlur stdDeviation="11 1" />
        </filter>
        {ringLabels.map((l, i) => (
          <path key={i} id={`ring${i}`} d={arcPath(l.r, l.mid, 40)} fill="none" />
        ))}
      </defs>
      <T x={22} y={84} s="A" size={82} bold />
      <T x={20} y={1270} s="B" size={82} bold />
      <T x={1478} y={1296} s="C" size={82} bold />
      <T x={2224} y={1296} s="D" size={82} bold />

      <T x={1283} y={118} s="parS1" size={46} bold italic fill="#c85050" len={129} />
      <T x={1445} y={118} s="parS2" size={46} bold italic fill="#c85050" len={129} />
      <T x={1874} y={118} s="parS3" size={46} bold italic fill="#c85050" len={131} />
      <T x={2080} y={118} s="parS4" size={46} bold italic fill="#c85050" len={128} />
      <T x={3143} y={126} s="half-parSs" size={46} bold italic fill="#4a4ab4" len={227} />

      <T x={123} y={742} s="Coverage with reads" size={54} bold rot={-90} len={452} />
      <T x={174} y={1156} s="ChIP-seq peaks" size={52} bold rot={-90} len={343} />

      <T x={2836} y={331} s="WT" size={58} bold />
      <T x={2836} y={392} s="ParB R94C" size={58} bold fill="#a50000" />
      <T x={2836} y={453} s="ParB A97T" size={58} bold fill="#006400" />
      <T x={2836} y={514} s="ParB 1-283" size={58} bold fill="#ffd400" />
      <T x={2836} y={569} s="ΔparB" size={58} bold italic fill="#888888" />

      <T x={135} y={1424} s="Peak fold enrichment" size={50} bold len={518} />
      <rect x={138} y={1452} width={39} height={37} fill={green} stroke="#111" strokeWidth={3} />
      <rect x={138} y={1525} width={39} height={37} fill={blue} stroke="#111" strokeWidth={3} />
      <rect x={138} y={1599} width={39} height={37} fill={purple} stroke="#111" strokeWidth={3} />
      <T x={195} y={1486} s="< 3" size={46} fill="#222" />
      <T x={195} y={1559} s="3–10" size={46} fill="#222" />
      <T x={195} y={1633} s="> 10" size={46} fill="#222" />

      {ringLabels.map((l, i) => (
        <text key={i} fontSize={52} fontWeight={700} fontFamily={SANS} fill={l.fill}>
          <textPath href={`#ring${i}`} startOffset="50%" textAnchor="middle">
            {l.s}
          </textPath>
        </text>
      ))}
      <T x={786} y={2174} s="PAO1161" size={56} bold len={212} />

      <rect x={1735} y={1395} width={44} height={44} fill="#00408a" stroke="#000" strokeWidth={6} />
      <rect x={1735} y={1495} width={44} height={44} fill="#ff4500" stroke="#000" strokeWidth={6} />
      <T x={1796} y={1415} s="GTTCCAC or" size={46} bold len={291} fill="#111" />
      <T x={1796} y={1455} s="GTTTCAC" size={46} bold len={225} fill="#111" />
      <T x={1796} y={1514} s="no motif ± 50bp" size={46} bold len={349} fill="#111" />
      <T x={1796} y={1555} s="from summit" size={46} bold len={287} fill="#111" />
      <T x={1720} y={2172} s="ChIPseq peaks (FE > 3)" size={60} bold rot={-90} len={593} fill="#111" />

      {columnTitles.map((t, i) => (
        <T key={t} x={columnLeft[i] + 88} y={1317} s={t} size={34} anchor="middle" fill={columnColors[i]} italic={i === 4} />
      ))}
      <line x1={2606} x2={2638} y1={1534} y2={1534} stroke="#767676" strokeWidth={6} />
      <T x={2645} y={1547} s="GTTCCAC" size={34} len={167} fill="#111" />
      <line x1={2835} x2={2867} y1={1534} y2={1534} stroke="#ababab" strokeWidth={6} />
      <T x={2875} y={1547} s="GTTTCAC" size={34} len={160} fill="#111" />
      <T x={2340} y={2160} s="GTTCCAC" size={60} bold rot={-90} len={228} />
      <T x={2335} y={2817} s="GTTTCAC" size={60} bold rot={-90} len={225} />
      <T x={3370} y={1848} s="Coverage" size={52} bold rot={-90} len={216} />
    </svg>
  );
}

export default function App() {
  return (
    <div style={{ position: "absolute", left: 0, top: 0, width: 3491, height: 2941, background: "#fff", overflow: "hidden" }}>
      <PanelA />
      <PanelB />
      <PanelC />
      {columnLeft.map((l, i) => (
        <ProfilePanel key={l} i={i} />
      ))}
      {columnLeft.map((l, i) => (
        <HeatPanel
          key={l}
          left={l}
          top={1559}
          height={941}
          rowAt={topRows}
          core={topCore[i]}
          pale={topPale[i]}
          warm={topWarm[i]}
          bg={[heatTop[i], heatMidBottom[i], heatBottom[i]]}
          streak={streakTop}
          firstRow={i === 4 ? "#fdd98a" : undefined}
        />
      ))}
      {columnLeft.map((l, i) => (
        <HeatPanel
          key={l}
          left={l}
          top={2511}
          height={354}
          rowAt={bottomRows}
          core={bottomCore[i]}
          pale={bottomPale[i]}
          warm={bottomWarm[i]}
          bg={[heatTop[i], heatMidBottom[i], heatBottom[i]]}
          streak={streakBottom}
          axis
        />
      ))}
      <ColorBar />
      <Overlay />
    </div>
  );
}
